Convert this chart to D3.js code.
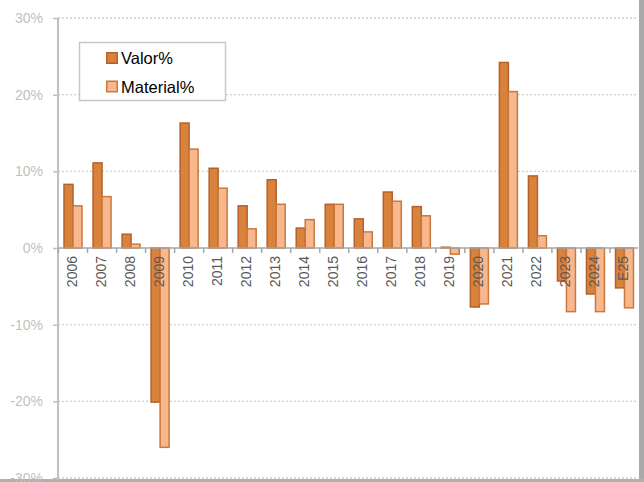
<!DOCTYPE html>
<html>
<head>
<meta charset="utf-8">
<script src="https://cdn.jsdelivr.net/npm/d3@7"></script>
<style>
  body { margin: 0; background: #fff; }
  text { font-family: "Liberation Sans", Arial, sans-serif; }
</style>
</head>
<body>
<svg width="644" height="482"></svg>
<script>
var years = ["2006", "2007", "2008", "2009", "2010", "2011", "2012", "2013", "2014", "2015",
             "2016", "2017", "2018", "2019", "2020", "2021", "2022", "2023", "2024", "E25"];
var valor    = [8.3, 11.1, 1.8, -20.1, 16.3, 10.4, 5.5, 8.9, 2.6, 5.7,
                3.8, 7.3, 5.4, 0.1, -7.7, 24.2, 9.4, -4.3, -6.0, -5.2];
var material = [5.5, 6.7, 0.5, -26.0, 12.9, 7.8, 2.5, 5.7, 3.7, 5.7,
                2.1, 6.1, 4.2, -0.8, -7.3, 20.4, 1.6, -8.3, -8.3, -7.8];
var seriesNames = ["Valor%", "Material%"];
var yTicks = [-30, -20, -10, 0, 10, 20, 30];

var fills = ["#d9823b", "#f9b78e"],
    strokes = ["#b5622a", "#c87a3e"];

var svg = d3.select("svg"),
    width = +svg.attr("width"),
    height = +svg.attr("height");

// frame + shadow
svg.append("rect").attr("x", 639).attr("y", 0).attr("width", 5).attr("height", height).attr("fill", "#a9a9a9");
svg.append("rect").attr("x", 0).attr("y", 479).attr("width", width).attr("height", 3).attr("fill", "#b0b0b0");
svg.append("rect").attr("x", 0).attr("y", 0).attr("width", 639).attr("height", 479).attr("fill", "#fff");

var x = d3.scaleBand()
    .domain(years)
    .range([58.5, 639])
    .paddingInner(0.38)
    .paddingOuter(0.19);

var xs = d3.scaleBand()
    .domain(seriesNames)
    .range([0, x.bandwidth()]);

var y = d3.scaleLinear()
    .domain([-30, 30])
    .range([478, 18]);

// gridlines
svg.append("g").selectAll("line")
  .data(yTicks.filter(function(d) { return d != 0; }))
  .enter().append("line")
    .attr("x1", 58).attr("x2", 638)
    .attr("y1", function(d) { return y(d); })
    .attr("y2", function(d) { return y(d); })
    .attr("stroke", "#cfcfcf")
    .attr("stroke-width", 1.3)
    .attr("stroke-dasharray", "2,2");

// y axis
var yAxis = svg.append("g")
    .attr("transform", "translate(58,0)")
    .call(d3.axisLeft(y).tickValues(yTicks).tickSize(5).tickPadding(10)
      .tickFormat(function(d) { return d + "%"; }));
yAxis.select(".domain").remove();
yAxis.selectAll(".tick line").attr("stroke", "#bfbfbf").attr("stroke-width", 1.5);
yAxis.selectAll(".tick text")
    .attr("fill", "#bfbfbf")
    .style("font-size", "14px")
    .style("font-family", "Liberation Sans, Arial, sans-serif");
yAxis.append("line")
    .attr("x1", 0).attr("x2", 0)
    .attr("y1", 18).attr("y2", 480)
    .attr("stroke", "#bfbfbf")
    .attr("stroke-width", 2);

// bars
var series = [valor, material];
svg.append("g").selectAll("g")
  .data(series)
  .enter().append("g")
    .attr("fill", function(d, i) { return fills[i]; })
    .attr("stroke", function(d, i) { return strokes[i]; })
    .attr("stroke-width", 1.5)
  .selectAll("rect")
  .data(function(d, i) { return d.map(function(v, j) { return {v: v, year: years[j], s: seriesNames[i]}; }); })
  .enter().append("rect")
    .attr("x", function(d) { return x(d.year) + xs(d.s); })
    .attr("width", xs.bandwidth())
    .attr("y", function(d) { return y(Math.max(0, d.v)); })
    .attr("height", function(d) { return Math.abs(y(d.v) - y(0)); });

// x axis at zero
var xAxis = svg.append("g");
xAxis.append("line")
    .attr("x1", 58).attr("x2", 638)
    .attr("y1", y(0)).attr("y2", y(0))
    .attr("stroke", "#a6a6a6")
    .attr("stroke-width", 1.5);
xAxis.selectAll(".tk")
  .data(years)
  .enter().append("line")
    .attr("class", "tk")
    .attr("x1", function(d) { return x(d) - x.step() * x.paddingInner() / 2; })
    .attr("x2", function(d) { return x(d) - x.step() * x.paddingInner() / 2; })
    .attr("y1", y(0)).attr("y2", y(0) + 5)
    .attr("stroke", "#a6a6a6")
    .attr("stroke-width", 1.5);
xAxis.selectAll("text")
  .data(years)
  .enter().append("text")
    .attr("transform", function(d) {
      return "translate(" + (x(d) + x.bandwidth() / 2 - 1) + "," + (y(0) + 8) + ") rotate(-90)";
    })
    .attr("text-anchor", "end")
    .attr("dy", "0.35em")
    .attr("fill", "#595959")
    .style("font-size", "14px")
    .text(function(d) { return d; });

// legend
var legend = svg.append("g");
legend.append("rect")
    .attr("x", 79.5).attr("y", 42.5)
    .attr("width", 146).attr("height", 58)
    .attr("fill", "#fff")
    .attr("stroke", "#c8c8c8")
    .attr("stroke-width", 1.5);
var item = legend.selectAll(".item")
  .data(seriesNames)
  .enter().append("g")
    .attr("class", "item")
    .attr("transform", function(d, i) { return "translate(106," + (52 + i * 28.5) + ")"; });
item.append("rect")
    .attr("x", 0.75).attr("y", 0.75)
    .attr("width", 10.5).attr("height", 10.5)
    .attr("fill", function(d, i) { return fills[i]; })
    .attr("stroke", function(d, i) { return strokes[i]; })
    .attr("stroke-width", 1.5);
item.append("text")
    .attr("x", 15).attr("y", 12)
    .attr("fill", "#000")
    .style("font-size", "16.5px")
    .text(function(d) { return d; });
</script>
</body>
</html>
